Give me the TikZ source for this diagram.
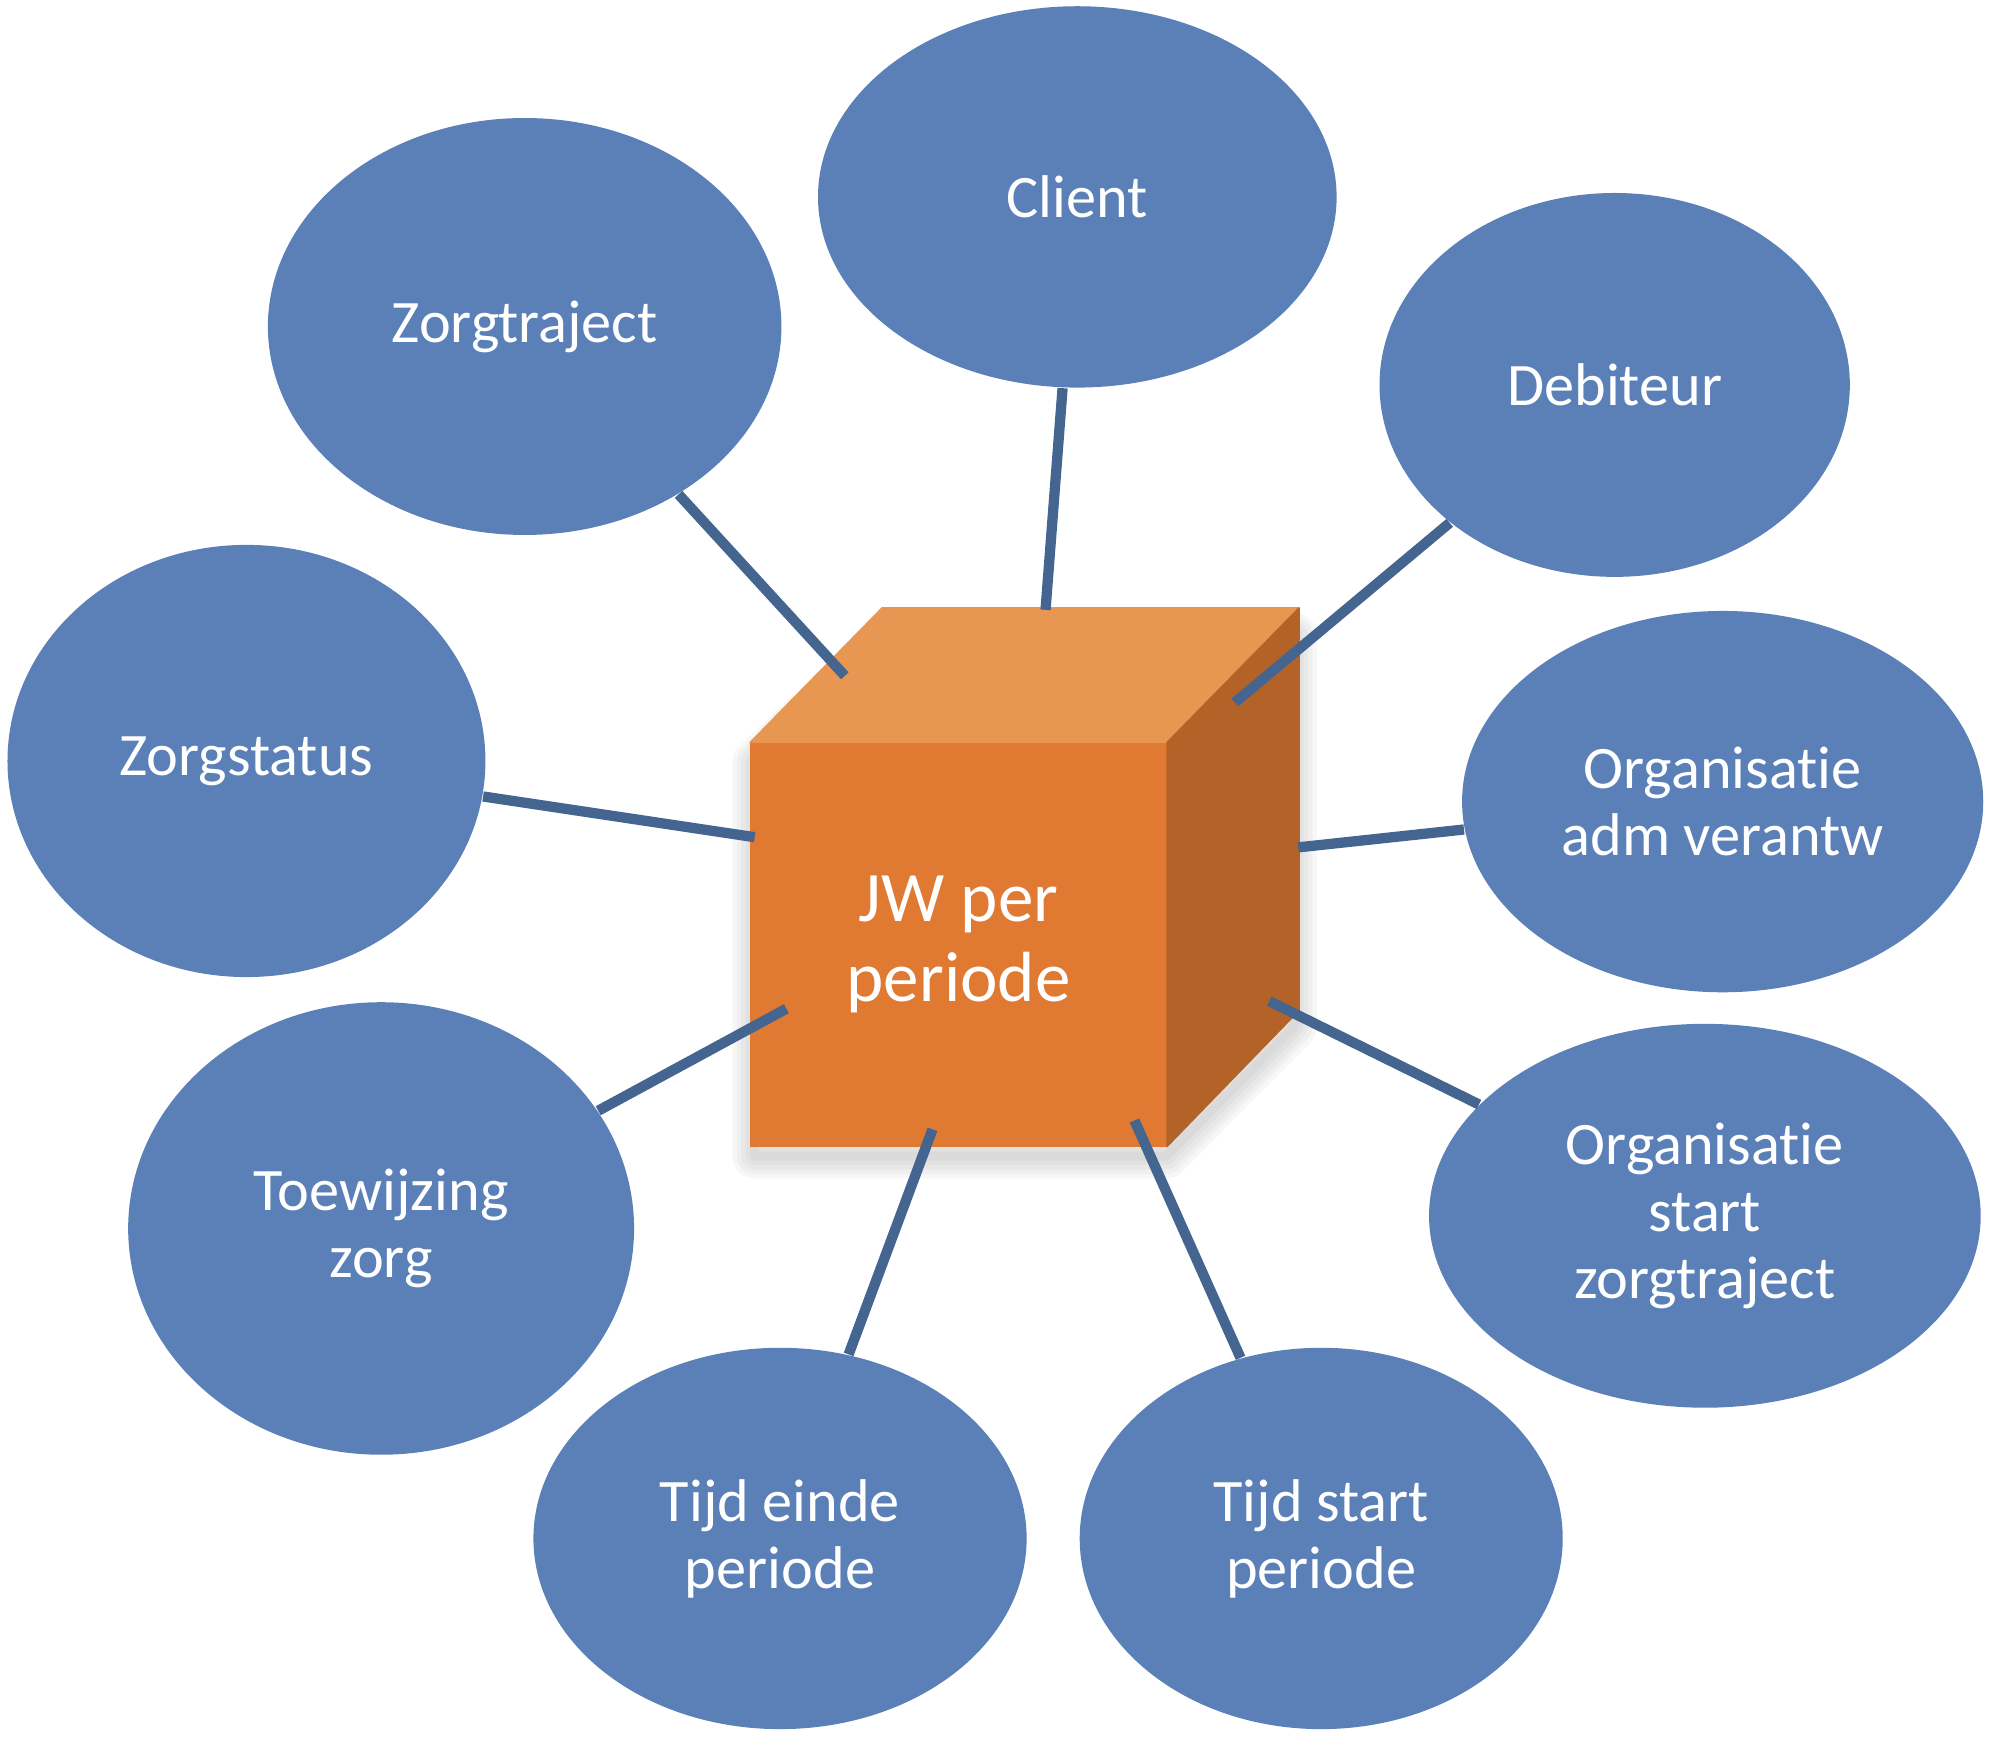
\documentclass[tikz,border=0pt]{standalone}
\usepackage{fontspec}
\setmainfont{Carlito}[RawFeature={-liga;-clig;-calt;-dlig;-rlig}]
\usetikzlibrary{shapes.geometric}
\definecolor{ell}{HTML}{5A80B7}
\definecolor{lnk}{HTML}{44658F}
\definecolor{cfront}{HTML}{E07932}
\definecolor{ctop}{HTML}{E89752}
\definecolor{cside}{HTML}{B46328}
\begin{document}
\begin{tikzpicture}[x=0.01cm,y=-0.01cm,
  bub/.style={ellipse, fill=ell, text=white, inner sep=0pt, align=center,
    font=\fontsize{13.5}{15}\selectfont},
  link/.style={draw=lnk, line width=2.3pt},
  shadowpart/.style={draw=black, opacity=0.03, line join=round}]
\useasboundingbox (0,0) rectangle (1568,1373);
% ellipses
\node[bub, minimum width=4.08cm, minimum height=3.00cm] (client) at (848,155) {Client};
\node[bub, minimum width=4.04cm, minimum height=3.28cm] (zt) at (413,257) {Zorgtraject};
\node[bub, minimum width=3.70cm, minimum height=3.02cm] (deb) at (1271,303) {Debiteur};
\node[bub, minimum width=3.76cm, minimum height=3.40cm] (zs) at (194,599) {Zorgstatus};
\node[bub, minimum width=4.10cm, minimum height=3.00cm] (oadm) at (1356,631) {Organisat\kern0pt ie\\adm verantw};
\node[bub, minimum width=3.98cm, minimum height=3.56cm] (toe) at (300,967) {Toewijzing\\zorg};
\node[bub, minimum width=4.34cm, minimum height=3.02cm] (ostart) at (1342,957) {Organisat\kern0pt ie\\start\\zorgtraject};
\node[bub, minimum width=3.88cm, minimum height=3.00cm] (te) at (614,1211) {Tijd einde\\periode};
\node[bub, minimum width=3.80cm, minimum height=3.00cm] (ts) at (1040,1211) {Tijd start\\periode};
% cube shadow (soft, mostly below)
\foreach \w in {2,4,6,8,10}
  \draw[shadowpart, line width=\w pt] (594,600) -- (700,500) -- (1019,500) -- (1019,808) -- (918,910) -- (594,910) -- cycle;
% cube
\node[fill=cfront, draw=cfront, line width=0.3pt, minimum width=3.27cm, minimum height=3.17cm, inner sep=0pt,
  text=white, align=center, font=\fontsize{15.9}{17.9}\selectfont] (cube) at (754.5,743.5) {JW per\\periode};
\filldraw[ctop, line width=0.3pt, line join=round] (cube.north west) -- ++(104,-106) -- ++(327,0) -- (cube.north east) -- cycle;
\filldraw[cside, line width=0.3pt, line join=round] (cube.north east) -- ++(104,-106) -- ++(0,317) -- (cube.south east) -- cycle;
% connector ends inside the cube
\coordinate (c1) at (665,532);
\coordinate (c2) at (823,480);
\coordinate (c3) at (972,553);
\coordinate (c4) at (594,659);
\coordinate (c5) at (1022,667);
\coordinate (c6) at (619,794);
\coordinate (c7) at (999,788);
\coordinate (c8) at (734,889);
\coordinate (c9) at (893,882);
% connectors
\draw[link] (c1) -- (zt);
\draw[link] (c2) -- (client);
\draw[link] (c3) -- (deb);
\draw[link] (c4) -- (zs);
\draw[link] (c5) -- (oadm);
\draw[link] (c6) -- (toe);
\draw[link] (c7) -- (ostart);
\draw[link] (c8) -- (te);
\draw[link] (c9) -- (ts);
\end{tikzpicture}
\end{document}
